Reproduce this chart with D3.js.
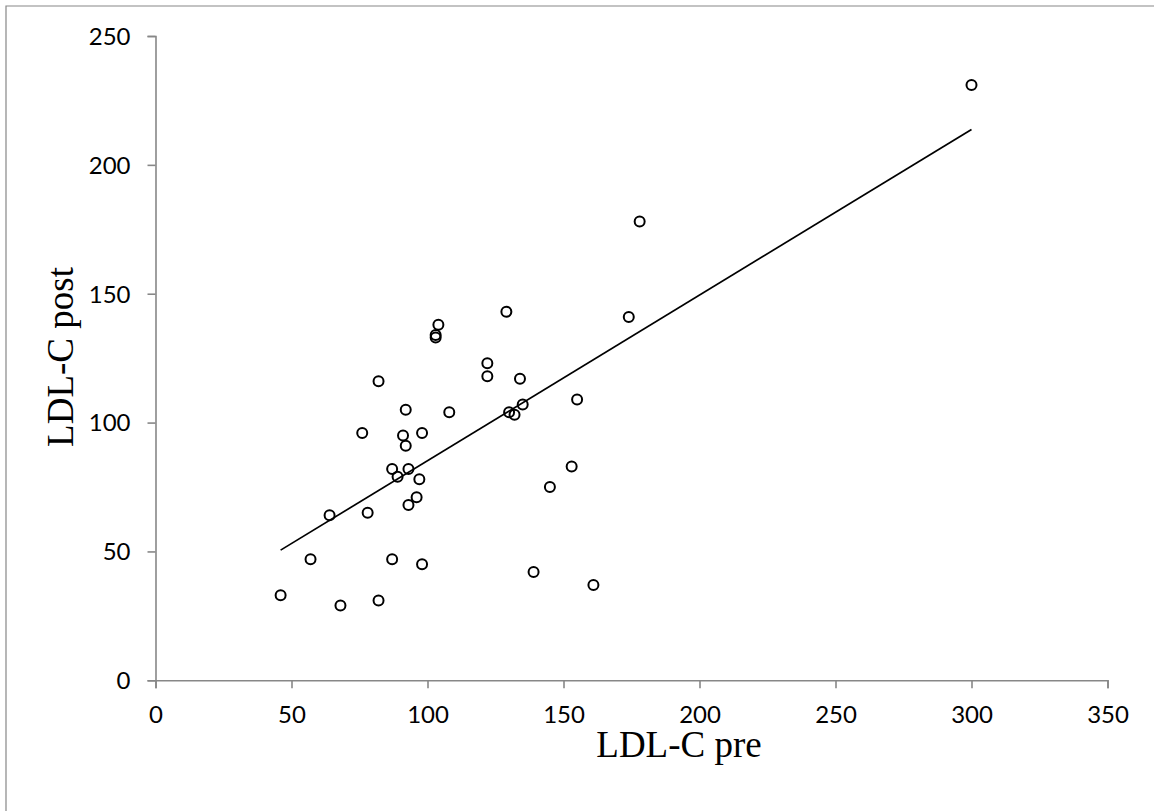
<!DOCTYPE html>
<html>
<head>
<meta charset="utf-8">
<script src="https://cdn.jsdelivr.net/npm/d3@7"></script>
<style>
  html, body { margin: 0; padding: 0; background: #fff; }
  svg { display: block; }
</style>
</head>
<body>
<svg id="chart" width="1154" height="811"></svg>
<script>
// LDL-C before (pre) and after (post), one pair per subject
const ldlPre  = [129, 104, 103, 103, 122, 122, 134, 82, 92, 108, 135, 130, 132, 76, 91, 98, 92, 87, 93, 89,
                 97, 96, 93, 64, 78, 145, 57, 87, 98, 139, 46, 68, 82, 300, 178, 174, 155, 153, 161];
const ldlPost = [143, 138, 134, 133, 123, 118, 117, 116, 105, 104, 107, 104, 103, 96, 95, 96, 91, 82, 82, 79,
                 78, 71, 68, 64, 65, 75, 47, 47, 45, 42, 33, 29, 31, 231, 178, 141, 109, 83, 37];

const xTicks = [0, 50, 100, 150, 200, 250, 300, 350];
const yTicks = [0, 50, 100, 150, 200, 250];

const xTitle = "LDL-C pre";
const yTitle = "LDL-C post";

const svg = d3.select("#chart");
const axisColor = "#878787";

const x = d3.scaleLinear().domain([0, 350]).range([155.5, 1107.5]);
const y = d3.scaleLinear().domain([0, 250]).range([680.3, 36]);

// outer chart-area frame (only its top and left edges fall inside the page)
svg.append("path")
  .attr("d", "M6,811 V6 H1154")
  .attr("fill", "none")
  .attr("stroke", axisColor)
  .attr("stroke-width", 1.2);

// axes
const xAxis = d3.axisBottom(x).tickValues(xTicks).tickSize(8).tickPadding(12)
  .tickFormat(d3.format("d"));
const yAxis = d3.axisLeft(y).tickValues(yTicks).tickSize(8).tickPadding(17)
  .tickFormat(d3.format("d"));

const gx = svg.append("g").attr("transform", `translate(0,${y(0)})`).call(xAxis);
const gy = svg.append("g").attr("transform", `translate(${x(0)},0)`).call(yAxis);

[gx, gy].forEach(g => {
  g.select(".domain").attr("stroke", axisColor).attr("stroke-width", 1.6);
  g.selectAll(".tick line").attr("stroke", axisColor).attr("stroke-width", 1.6);
  g.selectAll(".tick text")
    .attr("fill", "#000")
    .style("font-family", "Lato, 'Open Sans', sans-serif")
    .style("font-size", "24px");
});
gx.selectAll(".tick text").attr("dy", null).attr("y", 43);
gy.selectAll(".tick text").attr("dy", "0.35em");

// least-squares trend line across the observed range
const pts = ldlPre.map((v, i) => ({ pre: v, post: ldlPost[i] }));
const mx = d3.mean(ldlPre), my = d3.mean(ldlPost);
const sxy = d3.sum(pts, p => (p.pre - mx) * (p.post - my));
const sxx = d3.sum(pts, p => (p.pre - mx) ** 2);
const slope = sxy / sxx;
const icpt = my - slope * mx;
const [xmin, xmax] = d3.extent(ldlPre);

svg.append("line")
  .attr("x1", x(xmin)).attr("y1", y(icpt + slope * xmin))
  .attr("x2", x(xmax)).attr("y2", y(icpt + slope * xmax))
  .attr("stroke", "#000")
  .attr("stroke-width", 1.7);

// subjects
svg.append("g").selectAll("circle")
  .data(pts)
  .join("circle")
  .attr("cx", d => x(d.pre))
  .attr("cy", d => y(d.post))
  .attr("r", 5)
  .attr("fill", "none")
  .attr("stroke", "#000")
  .attr("stroke-width", 2);

// axis titles
svg.append("text")
  .attr("x", 679).attr("y", 757)
  .attr("text-anchor", "middle")
  .style("font-family", "'Liberation Serif', 'Times New Roman', serif")
  .style("font-size", "37px")
  .text(xTitle);

svg.append("text")
  .attr("transform", "translate(73,357) rotate(-90)")
  .attr("text-anchor", "middle")
  .style("font-family", "'Liberation Serif', 'Times New Roman', serif")
  .style("font-size", "37px")
  .text(yTitle);
</script>
</body>
</html>
